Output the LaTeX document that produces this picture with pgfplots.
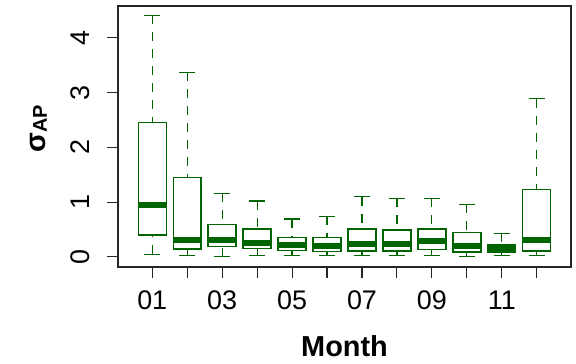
\documentclass[border=0pt]{standalone}
\usepackage{pgfplots}
\pgfplotsset{compat=1.18}
\usepgfplotslibrary{statistics}
\usepackage{fontspec}
\setmainfont{Liberation Sans}
\definecolor{dg}{HTML}{006400}
\pgfplotsset{
  boxplot/draw direction=y,
  boxplot/draw/lower whisker/.code={%
    \draw[/pgfplots/boxplot/every whisker/.try, dash pattern=on 9bp off 8bp]
      (boxplot box cs:\pgfplotsboxplotvalue{lower whisker},0.5) -- (boxplot box cs:\pgfplotsboxplotvalue{lower quartile},0.5);
    \draw[/pgfplots/boxplot/every whisker/.try]
      (boxplot whisker cs:\pgfplotsboxplotvalue{lower whisker},0) -- (boxplot whisker cs:\pgfplotsboxplotvalue{lower whisker},1);
  },
  boxplot/draw/upper whisker/.code={%
    \draw[/pgfplots/boxplot/every whisker/.try, dash pattern=on 9bp off 8bp]
      (boxplot box cs:\pgfplotsboxplotvalue{upper whisker},0.5) -- (boxplot box cs:\pgfplotsboxplotvalue{upper quartile},0.5);
    \draw[/pgfplots/boxplot/every whisker/.try]
      (boxplot whisker cs:\pgfplotsboxplotvalue{upper whisker},0) -- (boxplot whisker cs:\pgfplotsboxplotvalue{upper whisker},1);
  },
  boxplot/every box/.style={draw=dg, line width=1.4bp},
  boxplot/every whisker/.style={draw=dg, line width=1.2bp},
  boxplot/every median/.style={draw=dg, line width=6bp},
  boxplot/box extend=0.8,
  boxplot/whisker extend=0.45,
}
\begin{document}
\begin{tikzpicture}
\begin{axis}[
  scale only axis, width=453bp, height=261bp,
  xmin=0.02, xmax=12.98, ymin=-0.185, ymax=4.58,
  axis line style={line width=1.2bp, black!85},
  xtick={1,2,3,4,5,6,7,8,9,10,11,12},
  xticklabels={01,,03,,05,,07,,09,,11,},
  ytick={0,1,2,3,4},
  tick align=outside, major tick length=11bp,
  tick style={line width=1.1bp, black!85},
  xtick pos=bottom, ytick pos=left,
  tick label style={font=\fontsize{27}{27}\selectfont},
  /pgf/number format/assume math mode=true,
  yticklabel style={rotate=90, anchor=base, yshift=17bp},
  xticklabel style={yshift=-31bp, anchor=base},
  xlabel={Month},
  ylabel={\fontsize{29}{29}\selectfont\bfseries σ\raisebox{-1bp}{\fontsize{20}{20}\selectfont\bfseries AP}},
  xlabel style={at={([yshift=-89.7bp]axis description cs:0.5,0)}, anchor=base, font=\fontsize{29}{29}\selectfont\bfseries},
  ylabel style={at={([xshift=-72bp]axis description cs:0,0.529)}, anchor=base},
]
\addplot[boxplot prepared={draw position=1, lower whisker=0.05, lower quartile=0.40, median=0.94, upper quartile=2.45, upper whisker=4.41}] coordinates {};
\addplot[boxplot prepared={draw position=2, lower whisker=0.02, lower quartile=0.14, median=0.31, upper quartile=1.45, upper whisker=3.37}] coordinates {};
\addplot[boxplot prepared={draw position=3, lower whisker=0.00, lower quartile=0.19, median=0.30, upper quartile=0.59, upper whisker=1.16}] coordinates {};
\addplot[boxplot prepared={draw position=4, lower whisker=0.03, lower quartile=0.15, median=0.25, upper quartile=0.51, upper whisker=1.02}] coordinates {};
\addplot[boxplot prepared={draw position=5, lower whisker=0.03, lower quartile=0.12, median=0.21, upper quartile=0.35, upper whisker=0.69}] coordinates {};
\addplot[boxplot prepared={draw position=6, lower whisker=0.03, lower quartile=0.10, median=0.20, upper quartile=0.35, upper whisker=0.74}] coordinates {};
\addplot[boxplot prepared={draw position=7, lower whisker=0.03, lower quartile=0.11, median=0.24, upper quartile=0.51, upper whisker=1.10}] coordinates {};
\addplot[boxplot prepared={draw position=8, lower whisker=0.03, lower quartile=0.11, median=0.23, upper quartile=0.49, upper whisker=1.07}] coordinates {};
\addplot[boxplot prepared={draw position=9, lower whisker=0.03, lower quartile=0.13, median=0.29, upper quartile=0.51, upper whisker=1.07}] coordinates {};
\addplot[boxplot prepared={draw position=10, lower whisker=0.00, lower quartile=0.09, median=0.20, upper quartile=0.45, upper whisker=0.96}] coordinates {};
\addplot[boxplot prepared={draw position=11, lower whisker=0.03, lower quartile=0.09, median=0.165, upper quartile=0.23, upper whisker=0.43}] coordinates {};
\addplot[boxplot prepared={draw position=12, lower whisker=0.03, lower quartile=0.11, median=0.30, upper quartile=1.23, upper whisker=2.89}] coordinates {};
\end{axis}
\path ([shift={(-118bp,-97bp)}]current axis.south west) rectangle ([shift={(5bp,6bp)}]current axis.north east);
\end{tikzpicture}
\end{document}
